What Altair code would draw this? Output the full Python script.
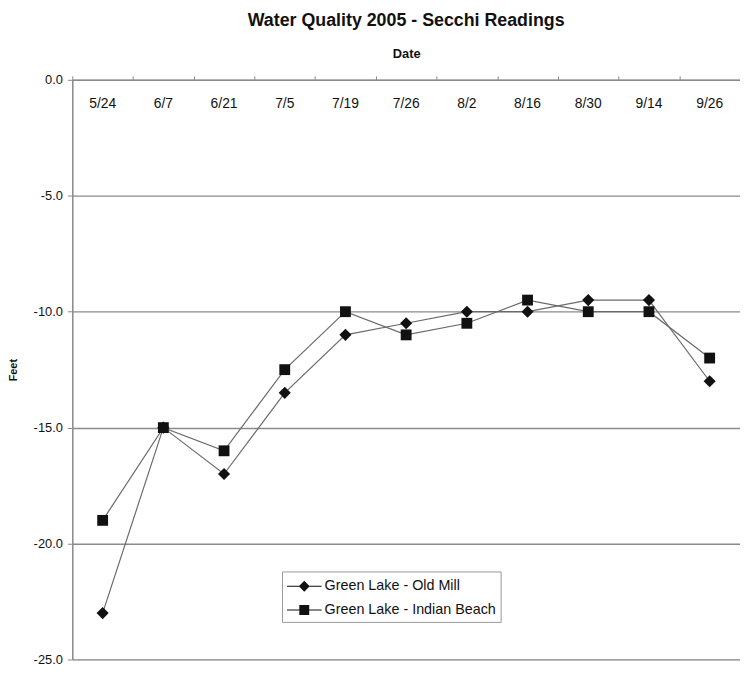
import altair as alt
import pandas as pd

dates = ["5/24", "6/7", "6/21", "7/5", "7/19", "7/26", "8/2", "8/16", "8/30", "9/14", "9/26"]
old_mill = [-23.0, -15.0, -17.0, -13.5, -11.0, -10.5, -10.0, -10.0, -9.5, -9.5, -13.0]
indian_beach = [-19.0, -15.0, -16.0, -12.5, -10.0, -11.0, -10.5, -9.5, -10.0, -10.0, -12.0]
series_names = ["Green Lake - Old Mill", "Green Lake - Indian Beach"]
y_ticks = [0, -5, -10, -15, -20, -25]

rows = []
for d, a, b in zip(dates, old_mill, indian_beach):
    rows.append({"date": d, "series": series_names[0], "feet": a})
    rows.append({"date": d, "series": series_names[1], "feet": b})
df = pd.DataFrame(rows)
lab = pd.DataFrame({"date": dates, "zero": [0.0] * len(dates)})

FONT = "Liberation Sans"
GRID = "#8a8a8a"

x_scale = alt.Scale(type="band", domain=dates, paddingInner=0, paddingOuter=0)
x_axis = alt.Axis(orient="top", title="Date", titleFontSize=13, titleFontWeight="bold",
                  titleFont=FONT, titleColor="#111", titlePadding=15, labels=False,
                  tickBand="extent", ticks=True, tickSize=4, tickColor=GRID,
                  domainColor=GRID, domainWidth=1.5, grid=False)
y_scale = alt.Scale(domain=[-25, 0], nice=False, zero=False)
y_axis = alt.Axis(values=y_ticks, title="Feet", titleFontSize=11, titleFontWeight="bold",
                  titleFont=FONT, titleColor="#111", titleX=-54,
                  labelExpr="replace(format(datum.value, '.1f'), '\u2212', '-')",
                  labelFontSize=13, labelFont=FONT, labelColor="#111", labelPadding=5,
                  tickSize=5, tickColor=GRID, domainColor=GRID, domainWidth=1.5,
                  grid=True, gridColor=GRID, gridWidth=1.3)

X = alt.X("date:N", sort=dates, scale=x_scale, axis=x_axis)
Y = alt.Y("feet:Q", scale=y_scale, axis=y_axis)

lines = alt.Chart(df).mark_line(color="#6a6a6a", strokeWidth=1.2).encode(
    x=X, y=Y, detail="series:N")

points = alt.Chart(df).mark_point(filled=True, color="#111", opacity=1).encode(
    x=X, y=Y,
    shape=alt.Shape("series:N", scale=alt.Scale(domain=series_names, range=["diamond", "square"]), legend=None),
    size=alt.Size("series:N", scale=alt.Scale(domain=series_names, range=[150, 120]), legend=None),
)

# legend glyph: a short line through the marker (unit = 10px)
diamond_path = "M-1,-0.05H2.5V0.05H-1Z M0.75,-0.55L1.3,0L0.75,0.55L0.2,0Z"
square_path = "M-1,-0.05H2.5V0.05H-1Z M0.25,-0.5H1.25V0.5H0.25Z"

legend_layer = alt.Chart(df).transform_filter("false").mark_point(
    filled=True, color="#111", opacity=1).encode(
    x=X, y=Y,
    shape=alt.Shape("series:N",
                    scale=alt.Scale(domain=series_names, range=[diamond_path, square_path]),
                    legend=alt.Legend(title=None, orient="none", legendX=212, legendY=497,
                                      symbolSize=400, symbolFillColor="#111",
                                      labelFontSize=14.5, labelFont=FONT, labelColor="#111",
                                      labelOffset=17, labelLimit=400, padding=4, rowPadding=4,
                                      strokeColor="#999", fillColor="white")),
)

labels = alt.Chart(lab).mark_text(fontSize=14, dy=24, baseline="middle", font=FONT, color="#111").encode(
    x=X, y=alt.Y("zero:Q", scale=y_scale, axis=y_axis), text="date:N")

chart = alt.layer(lines, points, legend_layer, labels).resolve_scale(
    shape="independent"
).properties(
    width=675, height=586,
    autosize=alt.AutoSizeParams(type="none"),
    padding={"left": 65, "top": 69, "right": 0, "bottom": 5},
    title=alt.TitleParams("Water Quality 2005 - Secchi Readings", fontSize=18, fontWeight="bold",
                          font=FONT, color="#111", anchor="middle", offset=18),
).configure_view(stroke=None).configure(background="white")

chart.save("out.html", embed_options={"renderer": "svg", "actions": False})
